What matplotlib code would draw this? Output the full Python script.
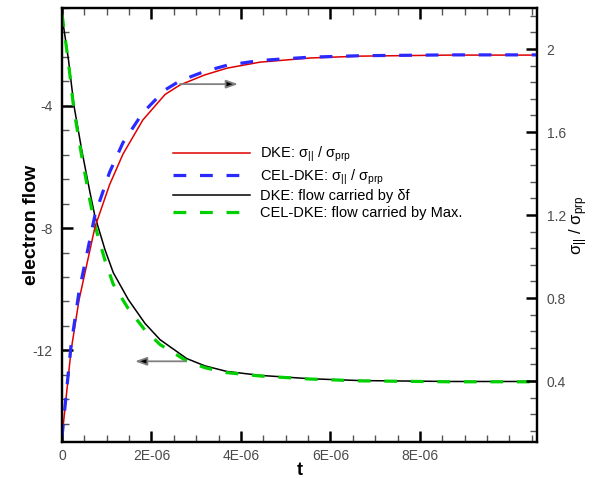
"""Electron flow and sigma ratio versus time (DKE vs CEL-DKE)."""

import numpy as np
import matplotlib.pyplot as plt
from matplotlib.ticker import MultipleLocator, FixedLocator, FuncFormatter

plt.rcParams["font.family"] = ["Liberation Sans", "DejaVu Sans"]
plt.rcParams["mathtext.fontset"] = "custom"
plt.rcParams["mathtext.rm"] = "Liberation Sans"
plt.rcParams["mathtext.it"] = "Liberation Sans:italic"
plt.rcParams["mathtext.bf"] = "Liberation Sans:bold"

# time in microseconds
t_sig = [0, 0.201, 0.380, 0.737, 1.061, 1.363, 1.806, 2.302, 2.637, 3.184, 3.687, 4.425,
         5.542, 6.659, 8.670, 10.615]
sig_dke = [0.130, 0.545, 0.790, 1.142, 1.345, 1.494, 1.658, 1.781, 1.827, 1.875, 1.908,
           1.937, 1.957, 1.966, 1.971, 1.971]
sig_cel = [0.130, 0.570, 0.830, 1.200, 1.405, 1.549, 1.693, 1.803, 1.847, 1.892, 1.922,
           1.945, 1.961, 1.968, 1.972, 1.972]

t_flow = [0, 0.145, 0.268, 0.440, 0.626, 0.737, 0.961, 1.146, 1.482, 1.855, 2.19, 2.787,
          3.196, 3.680, 4.425, 5.542, 6.659, 8.670, 10.615]
flow_dke = [-1.06, -2.50, -4.0, -5.44, -6.84, -7.62, -8.71, -9.46, -10.34, -11.12, -11.65,
            -12.27, -12.51, -12.69, -12.82, -12.93, -12.99, -13.02, -13.02]
flow_cel = [-1.0, -2.6, -4.15, -5.64, -7.11, -7.92, -9.06, -9.84, -10.64, -11.34, -11.81,
            -12.35, -12.57, -12.73, -12.84, -12.94, -13.0, -13.03, -13.03]

x_ticks = [0, 2e-6, 4e-6, 6e-6, 8e-6]
x_labels = ["0", "2E-06", "4E-06", "6E-06", "8E-06"]

# arrow annotations: (start t, end t, level), t in microseconds
arrow_sig = (2.637, 3.933, 1.831)
arrow_flow = (2.749, 1.631, -12.36)

us = 1e-6
fig = plt.figure(figsize=(5.99, 4.78), dpi=100)
ax = fig.add_axes([62 / 599, 36 / 478, 475 / 599, 434 / 478])
ax2 = ax.twinx()

ax.plot(np.array(t_flow) * us, flow_dke, color="black", lw=1.1, label="DKE: flow carried by δf")
ax.plot(np.array(t_flow) * us, flow_cel, color="#00d000", lw=2.3, dashes=(4, 4.3),
        label="CEL-DKE: flow carried by Max.")
ax2.plot(np.array(t_sig) * us, sig_dke, color="#e00000", lw=1.1,
         label=r"DKE: σ$_{\mathrm{||}}$ / σ$_{\mathrm{prp}}$")
ax2.plot(np.array(t_sig) * us, sig_cel, color="#2a2aff", lw=2.3, dashes=(4, 4.3),
         label=r"CEL-DKE: σ$_{\mathrm{||}}$ / σ$_{\mathrm{prp}}$")

ax.set_xlim(0, 10.615e-6)
ax.set_ylim(-15, -0.8)
ax2.set_ylim(0.106, 2.198)

ax.xaxis.set_major_locator(FixedLocator(x_ticks))
ax.set_xticklabels(x_labels)
ax.xaxis.set_minor_locator(MultipleLocator(5e-7))
ax.yaxis.set_major_locator(MultipleLocator(4))
ax.yaxis.set_minor_locator(MultipleLocator(0.8))
ax.yaxis.set_major_formatter(FuncFormatter(lambda v, p: "%g" % v))
ax2.yaxis.set_major_locator(MultipleLocator(0.4))
ax2.yaxis.set_minor_locator(MultipleLocator(0.08))
ax2.yaxis.set_major_formatter(FuncFormatter(lambda v, p: "%g" % round(v, 2)))

for a in (ax, ax2):
    for s in a.spines.values():
        s.set_linewidth(1.6)
    a.tick_params(which="major", direction="in", length=8, width=1.8, color="black",
                  labelsize=10, labelcolor="#4a4a4a", pad=7)
    a.tick_params(which="minor", direction="in", length=5, width=1, color="#555555")
ax.tick_params(which="both", top=True)
ax.tick_params(axis="x", which="major", pad=5)

ax.set_xlabel("t", fontsize=13, fontweight="bold", labelpad=-1)
ax.set_ylabel("electron flow", fontsize=14, fontweight="bold", labelpad=-6)
ax2.set_ylabel(r"σ$_{\mathrm{||}}$ / σ$_{\mathrm{prp}}$", fontsize=12, labelpad=1)

ax2.annotate("", xy=(arrow_sig[1] * us, arrow_sig[2]), xytext=(arrow_sig[0] * us, arrow_sig[2]),
             arrowprops=dict(arrowstyle="-|>,head_length=0.7,head_width=0.25",
                             ec="#808080", fc="black", lw=1.3, shrinkA=0, shrinkB=0))
ax.annotate("", xy=(arrow_flow[1] * us, arrow_flow[2]), xytext=(arrow_flow[0] * us, arrow_flow[2]),
            arrowprops=dict(arrowstyle="-|>,head_length=0.7,head_width=0.25",
                            ec="#808080", fc="black", lw=1.3, shrinkA=0, shrinkB=0))

h1, l1 = ax2.get_legend_handles_labels()
h2, l2 = ax.get_legend_handles_labels()
ax2.legend(h1 + h2, l1 + l2, loc="upper left", bbox_to_anchor=(173 / 599, 1 - 145 / 478),
           bbox_transform=fig.transFigure, frameon=False, fontsize=10.5, borderpad=0,
           borderaxespad=0, handlelength=5.3, handletextpad=0.7, labelspacing=0.2)

fig.savefig("out.png", dpi=100)
